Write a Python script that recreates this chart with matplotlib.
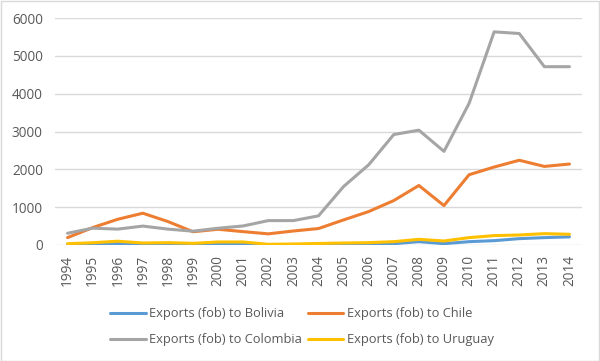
import matplotlib
matplotlib.use("Agg")
import matplotlib.pyplot as plt
from matplotlib.patches import Rectangle

years = [str(y) for y in range(1994, 2015)]
bolivia = [5, 10, 40, 20, 30, 30, 20, 20, 5, 10, 20, 10, 18, 35, 88, 35, 88, 115, 168, 195, 215]
chile = [195, 460, 680, 840, 620, 350, 416, 353, 295, 370, 435, 663, 884, 1175, 1573, 1042, 1857, 2061, 2240, 2077, 2140]
colombia = [310, 445, 420, 500, 420, 365, 443, 504, 645, 645, 770, 1546, 2120, 2920, 3035, 2475, 3743, 5634, 5590, 4713, 4713]
uruguay = [35, 60, 100, 53, 62, 44, 80, 80, 18, 27, 40, 53, 62, 88, 150, 106, 195, 248, 265, 300, 283]

series = [
    ("Exports (fob) to Bolivia", bolivia, "#5B9BD5"),
    ("Exports (fob) to Chile", chile, "#ED7D31"),
    ("Exports (fob) to Colombia", colombia, "#A5A5A5"),
    ("Exports (fob) to Uruguay", uruguay, "#FFC000"),
]

plt.rcParams['font.family'] = ['Open Sans', 'DejaVu Sans']
FS = 9.8
LFS = 9.3
fig = plt.figure(figsize=(6.0, 3.61), dpi=100)
W, H = 600, 361
ax = fig.add_axes([55 / W, 1 - 245 / H, (582 - 55) / W, (245 - 18) / H])

x = list(range(len(years)))
lines = {}
for name, vals, col in series:
    ln, = ax.plot(x, vals, color=col, lw=2.2, label=name, solid_capstyle='round', solid_joinstyle='round')
    lines[name] = ln

ax.set_xlim(-0.5, len(years) - 0.5)
ax.set_ylim(0, 6000)
ax.set_yticks(range(0, 6001, 1000))
ax.set_xticks(x)
ax.set_xticklabels(years, rotation=90)
ax.grid(axis='y', color='#D9D9D9', lw=1)
ax.set_axisbelow(True)
for s in ax.spines.values():
    s.set_visible(False)
ax.tick_params(length=0, labelcolor='#595959', labelsize=FS)
ax.tick_params(axis='y', pad=8.7)
ax.tick_params(axis='x', pad=7)

# Excel fills the legend row by row; matplotlib fills column by column
order = [series[0][0], series[2][0], series[1][0], series[3][0]]
fig.legend([lines[n] for n in order], order, loc='upper left',
           bbox_to_anchor=(104 / W, 1 - 301 / H), ncol=2, frameon=False, borderpad=0,
           fontsize=LFS, handlelength=2.75, handletextpad=0.25, columnspacing=0.45,
           labelspacing=1.0, labelcolor='#595959')

fig.add_artist(Rectangle((0.5 / W, 0.5 / H), 1 - 1.5 / W, 1 - 1.5 / H, transform=fig.transFigure,
                         fill=False, edgecolor='#D9D9D9', lw=1))
fig.savefig("out.png", dpi=100)
